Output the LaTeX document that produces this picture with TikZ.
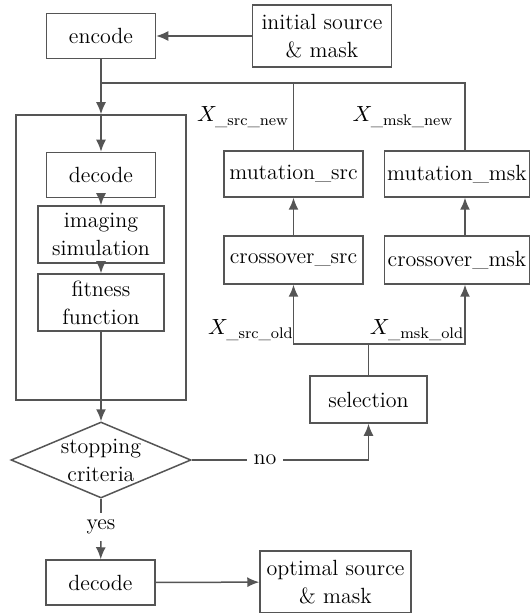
\documentclass[tikz,border=0pt]{standalone}
\usepackage{amsmath}
\usetikzlibrary{arrows.meta, shapes.geometric, positioning}
\definecolor{linegray}{RGB}{85,85,85}
\newcommand*{\pxu}{0.5pt}

\begin{document}
\begin{tikzpicture}[x=\pxu, y=-\pxu, font=\fontsize{11}{14}\selectfont, text=black,
    box/.style 2 args={draw=linegray, line width=0.75pt, align=center, inner sep=0pt, minimum width=#1*\pxu, minimum height=#2*\pxu},
    wire/.style={draw=linegray, line width=0.75pt},
    arr/.style={wire, -{Latex[length=6pt, width=5pt]}}]
    \clip (0,0) rectangle (531,613);
    \node[box={109}{45}] (enc) at (101,36) {encode};
    \node[box={139}{62}] (init) at (322,36) {initial source\\\& mask};
    \node[box={170}{285}] (loop) at (101,257.5) {};
    \node[box={109}{45}] (dec) at (101,175) {decode};
    \node[box={126}{57}] (img) at (101,234.5) {imaging\\simulation};
    \node[box={126}{57}] (fit) at (101,302.5) {fitness\\function};
    \node[draw=linegray, line width=0.75pt, diamond, aspect=2.37, inner sep=-4pt, align=center, minimum width=90pt, minimum height=38pt] (stop) at (101,460) {stopping\\criteria};
    \node (yes) at (101,527) {yes};
    \node (no) at (265,460) {no};
    \node[box={109}{45}] (decout) at (100.5,582.5) {decode};
    \node[box={151}{62}] (optimal) at (335.5,582) {optimal source\\\& mask};
    \node[box={139}{46}] (mutsrc) at (293.5,174) {mutation\_src};
    \node[box={145}{46}] (mutmsk) at (457,174) {mutation\_msk};
    \node[box={139}{48}] (crosrc) at (293.5,260) {crossover\_src};
    \node[box={145}{48}] (cromsk) at (457,260) {crossover\_msk};
    \node[box={117}{47}] (sel) at (368.5,399.5) {selection};
    \node (xsrcnew) at (243,117) {$X_{\text{\_src\_new}}$};
    \node (xmsknew) at (403,117) {$X_{\text{\_msk\_new}}$};
    \node (xsrcold) at (251,330) {$X_{\text{\_src\_old}}$};
    \node (xmskold) at (417,330) {$X_{\text{\_msk\_old}}$};
    \coordinate (split) at (101,83);
    \coordinate (join) at (368.5,344);
    \coordinate (mskline) at (465,0);
    \draw[arr] (init) -- (enc);
    \draw[arr] (enc) -- (loop.north);
    \draw[arr] (loop.north) -- (dec);
    \draw[arr] (dec) -- (img);
    \draw[arr] (img) -- (fit);
    \draw[wire] (fit) -- (loop.south);
    \draw[arr] (loop.south) -- (stop.north);
    \draw[wire] (stop.south) -- (yes);
    \draw[arr] (yes) -- (decout);
    \draw[arr] (decout) -- (optimal);
    \draw[wire] (stop.east) -- (no);
    \draw[arr] (no) -| (sel);
    \draw[wire] (sel) -- (join);
    \draw[arr] (join) -| (crosrc);
    \draw[arr] (join) -| (mskline |- cromsk.south);
    \draw[arr] (crosrc) -- (mutsrc);
    \draw[arr] (mskline |- cromsk.north) -- (mskline |- mutmsk.south);
    \draw[wire] (split) -| (mskline |- mutmsk.north);
    \draw[wire] (split -| mutsrc) -- (mutsrc);
\end{tikzpicture}
\end{document}
